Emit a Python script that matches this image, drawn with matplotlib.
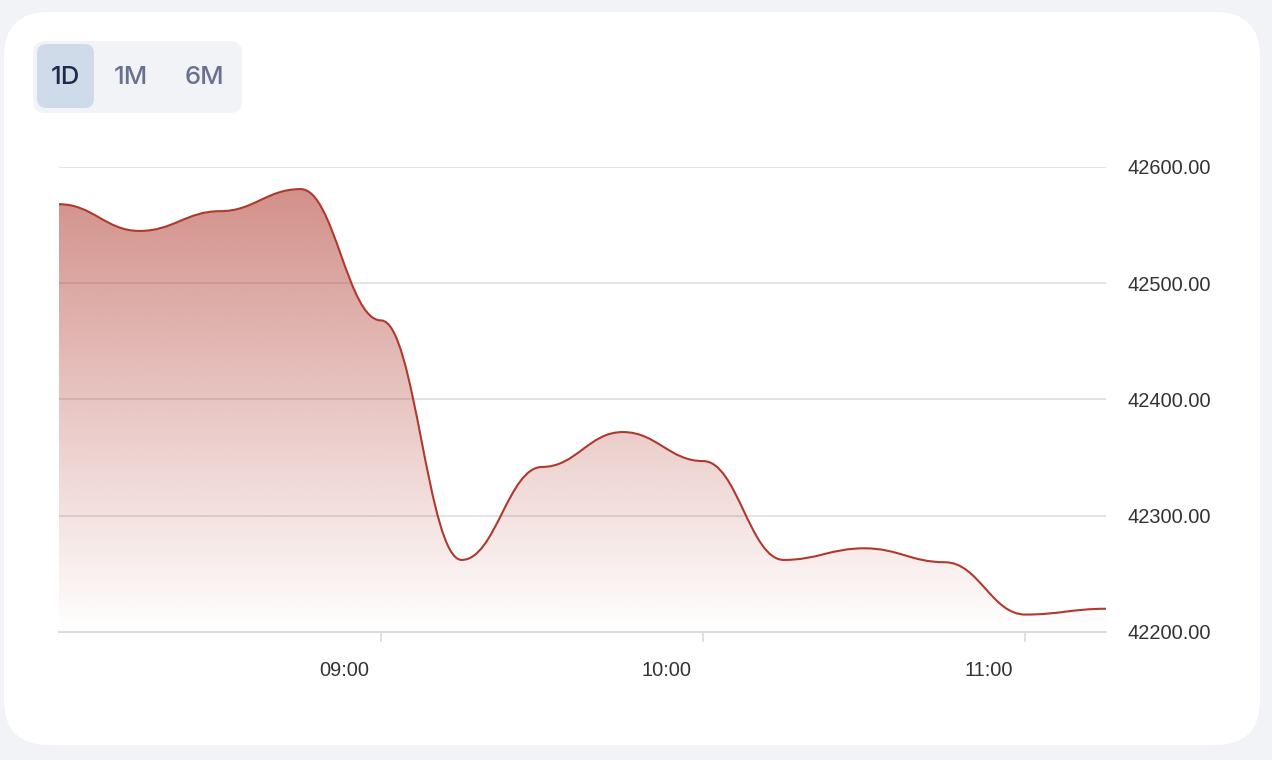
import matplotlib
matplotlib.use("Agg")
import matplotlib.pyplot as plt
import numpy as np
from matplotlib.path import Path
from matplotlib.patches import PathPatch, FancyBboxPatch
from matplotlib.transforms import ScaledTranslation

# ---------------- data ----------------
times = ["08:00", "08:15", "08:30", "08:45", "09:00", "09:15", "09:30",
         "09:45", "10:00", "10:15", "10:30", "10:45", "11:00", "11:15"]
prices = [42568, 42545, 42562, 42581, 42468, 42262, 42342,
          42372, 42347, 42262, 42272, 42260, 42215, 42220]
x_tick_labels = ["09:00", "10:00", "11:00"]
y_ticks = [42200, 42300, 42400, 42500, 42600]
buttons = ["1D", "1M", "6M"]
active_button = "1D"

def to_min(t):
    h, m = t.split(":")
    return (int(h) - 8) * 60 + int(m)

xs = np.array([to_min(t) for t in times], dtype=float)
ys = np.array(prices, dtype=float)

LINE = "#b0392e"
BG = "#f2f3f7"

W, H = 1272, 760
fig = plt.figure(figsize=(W / 100, H / 100), dpi=100)
fig.patch.set_facecolor(BG)

# card
card = FancyBboxPatch((4 / W, 15 / H), (1256) / W, (733) / H,
                      boxstyle="round,pad=0,rounding_size=0.035",
                      transform=fig.transFigure, facecolor="white",
                      edgecolor="none", mutation_aspect=W / H, zorder=0)
fig.patches.append(card)

# button group
grp = FancyBboxPatch((33 / W, (H - 113) / H), 209 / W, 72 / H,
                     boxstyle="round,pad=0,rounding_size=0.0095",
                     transform=fig.transFigure, facecolor="#f1f3f7",
                     edgecolor="none", mutation_aspect=W / H, zorder=1)
fig.patches.append(grp)
btn_centers = [65, 131, 204]
for name, cx in zip(buttons, btn_centers):
    if name == active_button:
        act = FancyBboxPatch((37 / W, (H - 108) / H), 57 / W, 64 / H,
                             boxstyle="round,pad=0,rounding_size=0.0075",
                             transform=fig.transFigure, facecolor="#cfdbe8",
                             edgecolor="none", mutation_aspect=W / H, zorder=2)
        fig.patches.append(act)
        col = "#1e2a4b"
    else:
        col = "#697190"
    fig.text(cx / W, (H - 77) / H, name, ha="center", va="center",
             fontsize=18.5, fontweight="medium", color=col,
             family=["Inter", "DejaVu Sans"], zorder=3)

# axes
ax = fig.add_axes([59 / W, 128 / H, (1106 - 59) / W, (632 - 167) / H])
ax.set_zorder(5)
ax.set_facecolor("none")
ax.set_xlim(xs[0], xs[-1])
ax.set_ylim(42200, 42600)

# smooth path (horizontal tangents, ECharts smoothMonotone-like)
s = 0.42
verts = [(xs[0], ys[0])]
codes = [Path.MOVETO]
for i in range(len(xs) - 1):
    dx = xs[i + 1] - xs[i]
    verts += [(xs[i] + s * dx, ys[i]), (xs[i + 1] - s * dx, ys[i + 1]), (xs[i + 1], ys[i + 1])]
    codes += [Path.CURVE4] * 3
line_path = Path(verts, codes)

fill_verts = verts + [(xs[-1], 42200), (xs[0], 42200), (xs[0], ys[0])]
fill_codes = codes + [Path.LINETO, Path.LINETO, Path.CLOSEPOLY]
fill_path = Path(fill_verts, fill_codes)

# gradient fill
rgb = np.array(matplotlib.colors.to_rgb(LINE))
n = 256
alpha = np.linspace(0.0, 0.56, n)[:, None]
grad = np.zeros((n, 1, 4))
grad[..., :3] = rgb
grad[..., 3] = alpha
im = ax.imshow(grad, extent=[xs[0], xs[-1], 42200, ys.max()], origin="lower",
               aspect="auto", zorder=2, interpolation="bilinear")
clip = PathPatch(fill_path, facecolor="none", edgecolor="none", transform=ax.transData)
ax.add_patch(clip)
im.set_clip_path(clip)

ax.add_patch(PathPatch(line_path, facecolor="none", edgecolor=LINE, lw=1.5, zorder=3))

ax.set_xlim(xs[0], xs[-1])
ax.set_ylim(42200, 42600)

# grid & axes
for sp in ["top", "left", "right"]:
    ax.spines[sp].set_visible(False)
ax.spines["bottom"].set_color("#dcdcdc")
ax.spines["bottom"].set_linewidth(1.5)
ax.spines["bottom"].set_zorder(1)
ax.set_yticks(y_ticks)
ax.yaxis.tick_right()
ax.set_yticklabels([f"{v:.2f}" for v in y_ticks])
ax.tick_params(axis="y", length=0, pad=15.8, labelsize=14.4, labelcolor="#333333")
for lab in ax.get_yticklabels():
    lab.set_family(["Liberation Sans", "DejaVu Sans"])
    lab.set_horizontalalignment("left")
ax.grid(axis="y", color="#e0e0e0", lw=1.3, zorder=1)
ax.set_axisbelow(True)

ax.set_xticks([to_min(t) for t in x_tick_labels])
ax.set_xticklabels(x_tick_labels)
ax.tick_params(axis="x", length=7.2, width=1.3, color="#dcdcdc", pad=13.5,
               labelsize=14.4, labelcolor="#333333")
off = ScaledTranslation(-37 / 100, 0, fig.dpi_scale_trans)
for lab in ax.get_xticklabels():
    lab.set_family(["Liberation Sans", "DejaVu Sans"])
    lab.set_transform(lab.get_transform() + off)

fig.savefig("out.png", dpi=100, facecolor=fig.get_facecolor())
